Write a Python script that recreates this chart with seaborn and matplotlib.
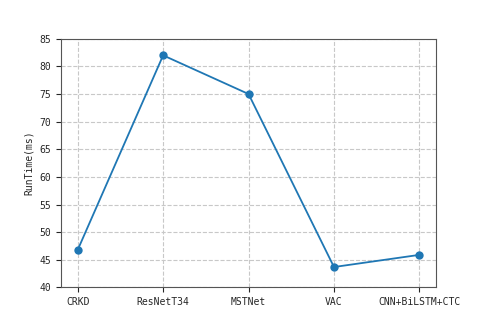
import matplotlib
matplotlib.use("Agg")
import matplotlib.pyplot as plt
import seaborn as sns
import pandas as pd

models = ["CRKD", "ResNetT34", "MSTNet", "VAC", "CNN+BiLSTM+CTC"]
runtime = [46.8, 82.0, 75.0, 43.7, 45.9]
yticks = [40, 45, 50, 55, 60, 65, 70, 75, 80, 85]

sns.set_style("ticks")
plt.rcParams['font.family'] = ['DejaVu Sans Mono', 'DejaVu Sans']

df = pd.DataFrame({"model": models, "runtime": runtime, "x": range(len(models))})

fig, ax = plt.subplots(figsize=(4.85, 3.23), dpi=100)
fig.subplots_adjust(left=0.125, right=0.9, top=0.88, bottom=0.11)
sns.lineplot(data=df, x="x", y="runtime", marker="o", markersize=6,
             markeredgewidth=0, color="#1f77b4", linewidth=1.3, ax=ax)
ax.set_xticks(range(len(models)))
ax.set_xticklabels(models, fontsize=7)
ax.set_yticks(yticks)
ax.tick_params(axis='y', labelsize=7)
ax.set_ylim(40, 85)
ax.set_xlim(-0.2, 4.2)
ax.set_xlabel("")
ax.set_ylabel("RunTime(ms)", fontsize=7)
ax.grid(True, linestyle="--", color="#c8c8c8", linewidth=0.8)
for s in ax.spines.values():
    s.set_visible(True)
    s.set_color("#555555")
fig.savefig("out.png", dpi=100)
